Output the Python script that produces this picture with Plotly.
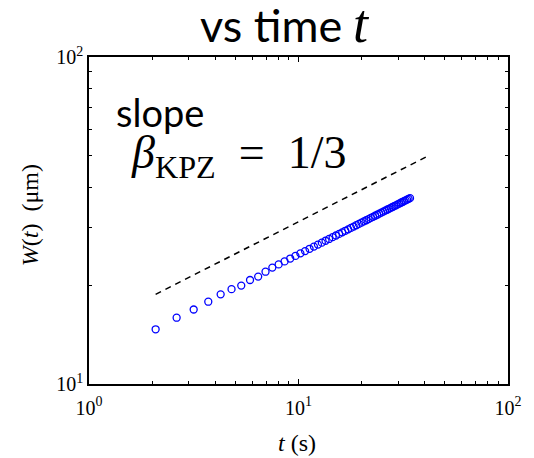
import plotly.graph_objects as go

# measured data (time in s, width in micrometres)
t_vals = [2.08, 2.62, 3.16, 3.71, 4.25, 4.79, 5.33, 5.87, 6.42, 6.96,
          7.50, 8.04, 8.58, 9.13, 9.67, 10.21, 10.75, 11.29, 11.84, 12.38,
          12.92, 13.46, 14.00, 14.55, 15.09, 15.63, 16.17, 16.71, 17.26, 17.80,
          18.34, 18.88, 19.42, 19.97, 20.51, 21.05, 21.59, 22.13, 22.68, 23.22,
          23.76, 24.30, 24.84, 25.39, 25.93, 26.47, 27.01, 27.55, 28.10, 28.64,
          29.18, 29.72, 30.26, 30.81, 31.35, 31.89, 32.43, 32.97, 33.52, 34.06]
W_vals = [14.7, 15.95, 16.9, 17.85, 18.8, 19.5, 20.0, 20.8, 21.3, 22.05,
          22.7, 23.21, 23.71, 24.19, 24.64, 25.08, 25.50, 25.91, 26.31, 26.69,
          27.06, 27.42, 27.77, 28.12, 28.45, 28.78, 29.10, 29.41, 29.71, 30.01,
          30.30, 30.59, 30.87, 31.15, 31.42, 31.68, 31.94, 32.20, 32.45, 32.70,
          32.94, 33.18, 33.42, 33.66, 33.89, 34.11, 34.34, 34.56, 34.78, 34.99,
          35.20, 35.41, 35.62, 35.83, 36.03, 36.23, 36.43, 36.62, 36.82, 37.01]

# KPZ guide line (slope 1/3)
guide_t = [2.08, 42.5]
guide_W = [18.8, 50.2]

x_tickvals = [1, 10, 100]
x_ticktext = ["10<sup>0</sup>", "10<sup>1</sup>", "10<sup>2</sup>"]
y_tickvals = [10, 100]
y_ticktext = ["10<sup>1</sup>", "10<sup>2</sup>"]
x_minor = [2, 3, 4, 5, 6, 7, 8, 9, 20, 30, 40, 50, 60, 70, 80, 90]
y_minor = [20, 30, 40, 50, 60, 70, 80, 90]

SERIF = "Liberation Serif"
SANS = "Lato"

fig = go.Figure()
fig.add_trace(go.Scatter(
    x=guide_t, y=guide_W, mode="lines",
    line=dict(color="black", width=1.5, dash="6px,5px"),
    showlegend=False, hoverinfo="skip"))
fig.add_trace(go.Scatter(
    x=t_vals, y=W_vals, mode="markers",
    marker=dict(symbol="circle-open", size=7, color="#0000ff",
                line=dict(width=1.3, color="#0000ff")),
    showlegend=False))

axis_common = dict(
    type="log", showgrid=False, zeroline=False,
    showline=True, linecolor="black", linewidth=1.5, mirror="allticks",
    ticks="inside", ticklen=5, tickwidth=1, tickcolor="black",
    tickfont=dict(family=SERIF, size=20, color="black"),
    tickmode="array",
)

fig.update_xaxes(range=[0, 2], tickvals=x_tickvals, ticktext=x_ticktext,
                 ticklabelstandoff=5,
                 minor=dict(tickmode="array", tickvals=x_minor, ticks="inside",
                            ticklen=3, tickcolor="black", showgrid=False),
                 **axis_common)
fig.update_yaxes(range=[1, 2], tickvals=y_tickvals, ticktext=y_ticktext,
                 minor=dict(tickmode="array", tickvals=y_minor, ticks="inside",
                            ticklen=3, tickcolor="black", showgrid=False),
                 **axis_common)

# plot area in page pixels: x 89..510, y 57..384
def px_x(x):
    return (x - 89) / 421

def px_y(y):
    return (384 - y) / 327

EN = "\u2002"
annotations = [
    dict(text="vs time", x=px_x(345), y=px_y(54), xanchor="right", yanchor="bottom",
         font=dict(family=SANS, size=45, color="black")),
    dict(text="<i>t</i>", x=px_x(352), y=px_y(56), xanchor="left", yanchor="bottom",
         font=dict(family=SERIF, size=54, color="black")),
    dict(text="slope", x=px_x(114), y=px_y(112), xanchor="left", yanchor="middle",
         font=dict(family=SANS, size=38, color="black")),
    dict(text="<i>β</i><sub>KPZ</sub>" + EN + "=" + EN + "1/3", x=px_x(129), y=px_y(156),
         xanchor="left", yanchor="middle",
         font=dict(family=SERIF, size=46, color="black")),
    dict(text="<i>t</i> (s)", x=px_x(298), y=px_y(443), xanchor="center",
         yanchor="middle", font=dict(family=SERIF, size=24, color="black")),
    dict(text="<i>W</i>(<i>t</i>)  (μm)", x=px_x(30), y=px_y(215), xanchor="center",
         yanchor="middle", textangle=-90,
         font=dict(family=SERIF, size=24, color="black")),
]
for a in annotations:
    a.update(xref="paper", yref="paper", showarrow=False)

# the page body adds an 8px margin, so the figure is 8px smaller and margins shifted
fig.update_layout(
    width=526, height=450,
    margin=dict(l=81, r=24, t=49, b=74),
    paper_bgcolor="white", plot_bgcolor="white",
    annotations=annotations,
)

fig.write_html("out.html")
